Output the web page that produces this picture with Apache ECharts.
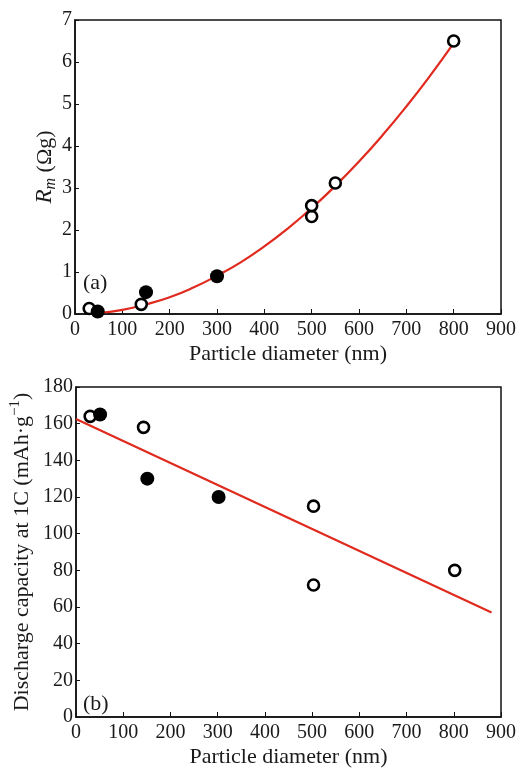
<!DOCTYPE html>
<html>
<head>
<meta charset="utf-8">
<script src="https://cdn.jsdelivr.net/npm/echarts@6/dist/echarts.min.js"></script>
<style>
html,body{margin:0;padding:0;background:#fff;}
#c{width:519px;height:769px;}
</style>
</head>
<body>
<div id="c"></div>
<script>
// ---- Panel (a): Rm vs particle diameter ----
const aOpen = [[30, 0.13], [140, 0.23], [500, 2.32], [500, 2.58], [550, 3.12], [800, 6.5]];
const aFilled = [[48, 0.06], [150, 0.52], [300, 0.9]];
const aFitX = [55, 100, 150, 200, 250, 300, 350, 400, 450, 500, 550, 600, 650, 700, 750, 800];
const aFitY = [0.03, 0.10, 0.23, 0.40, 0.63, 0.91, 1.23, 1.61, 2.04, 2.52, 3.05, 3.63, 4.26, 4.94, 5.67, 6.45];
const aYTicks = [0, 1, 2, 3, 4, 5, 6, 7];

// ---- Panel (b): discharge capacity vs particle diameter ----
const bOpen = [[30, 164], [143, 158], [503, 115], [503, 72], [802, 80]];
const bFilled = [[51, 165], [151, 130], [302, 120]];
const bFitX = [0, 880];
const bFitY = [162.5, 57];
const bYTicks = [0, 20, 40, 60, 80, 100, 120, 140, 160, 180];
const xTicks = [0, 100, 200, 300, 400, 500, 600, 700, 800, 900];

const FONT = 'Liberation Serif';
const TXT = '#1a1a1a';
const RED = '#e02a1e';

function xAxisCfg(gi) {
  return {
    type: 'value', gridIndex: gi, min: xTicks[0], max: xTicks[xTicks.length - 1], interval: 100,
    name: 'Particle diameter (nm)', nameLocation: 'middle', nameGap: 29, nameMoveOverlap: false,
    nameTextStyle: {fontFamily: FONT, fontSize: 22, color: TXT},
    axisLine: {show: true, onZero: false, lineStyle: {color: '#111', width: 1.5}},
    axisTick: {show: true, inside: true, length: 5, lineStyle: {color: '#111', width: 1}},
    axisLabel: {fontFamily: FONT, fontSize: 20, color: TXT, margin: 6},
    splitLine: {show: false}
  };
}

const option = {
  animation: false,
  backgroundColor: '#fff',
  grid: [
    {left: 75, right: 17, top: 20, height: 294, show: true, borderColor: '#111', borderWidth: 1.5},
    {left: 75, right: 17, top: 387, height: 333, show: true, borderColor: '#111', borderWidth: 1.5}
  ],
  xAxis: [xAxisCfg(0), xAxisCfg(1)],
  yAxis: [
    {
      type: 'value', gridIndex: 0, min: aYTicks[0], max: aYTicks[aYTicks.length - 1], interval: 1,
      name: '{R|R}{m|m}{t| (Ωg)}', nameLocation: 'middle', nameGap: 16, nameMoveOverlap: false,
      nameTextStyle: {
        fontFamily: FONT, fontSize: 22, color: TXT,
        rich: {
          R: {fontFamily: FONT, fontSize: 23, fontStyle: 'italic', color: TXT, lineHeight: 28},
          m: {fontFamily: FONT, fontSize: 16, fontStyle: 'italic', color: TXT, lineHeight: 15, verticalAlign: 'bottom'},
          t: {fontFamily: FONT, fontSize: 22, color: TXT, lineHeight: 28}
        }
      },
      axisLine: {show: true, onZero: false, lineStyle: {color: '#111', width: 1.5}},
      axisTick: {show: true, inside: true, length: 4, lineStyle: {color: '#111', width: 1}},
      axisLabel: {fontFamily: FONT, fontSize: 20, color: TXT, margin: 3},
      splitLine: {show: false}
    },
    {
      type: 'value', gridIndex: 1, min: bYTicks[0], max: bYTicks[bYTicks.length - 1], interval: 20,
      name: '{t|Discharge capacity at 1C (mAh·g}{s|−1}{t|)}', nameLocation: 'middle', nameGap: 40, nameMoveOverlap: false,
      nameTextStyle: {
        fontFamily: FONT, fontSize: 22, color: TXT,
        rich: {
          t: {fontFamily: FONT, fontSize: 22, color: TXT, lineHeight: 28},
          s: {fontFamily: FONT, fontSize: 15, color: TXT, lineHeight: 15, verticalAlign: 'top'}
        }
      },
      axisLine: {show: true, onZero: false, lineStyle: {color: '#111', width: 1.5}},
      axisTick: {show: true, inside: true, length: 4, lineStyle: {color: '#111', width: 1}},
      axisLabel: {fontFamily: FONT, fontSize: 20, color: TXT, margin: 3},
      splitLine: {show: false}
    }
  ],
  graphic: [
    {type: 'text', left: 83, top: 272, style: {text: '(a)', font: '22px "Liberation Serif"', fill: TXT}},
    {type: 'text', left: 83, top: 693, style: {text: '(b)', font: '22px "Liberation Serif"', fill: TXT}}
  ],
  series: [
    {
      type: 'line', xAxisIndex: 0, yAxisIndex: 0, smooth: true, symbol: 'none',
      data: aFitX.map((x, i) => [x, aFitY[i]]),
      lineStyle: {color: RED, width: 2.2}, z: 2
    },
    {
      type: 'scatter', xAxisIndex: 0, yAxisIndex: 0, data: aOpen, symbol: 'circle', symbolSize: 11,
      itemStyle: {color: '#fff', borderColor: '#000', borderWidth: 2.6, opacity: 1}, z: 3
    },
    {
      type: 'scatter', xAxisIndex: 0, yAxisIndex: 0, data: aFilled, symbol: 'circle', symbolSize: 14,
      itemStyle: {color: '#000', opacity: 1}, z: 3
    },
    {
      type: 'line', xAxisIndex: 1, yAxisIndex: 1, symbol: 'none',
      data: bFitX.map((x, i) => [x, bFitY[i]]),
      lineStyle: {color: RED, width: 2.2}, z: 2
    },
    {
      type: 'scatter', xAxisIndex: 1, yAxisIndex: 1, data: bOpen, symbol: 'circle', symbolSize: 11,
      itemStyle: {color: '#fff', borderColor: '#000', borderWidth: 2.6, opacity: 1}, z: 3
    },
    {
      type: 'scatter', xAxisIndex: 1, yAxisIndex: 1, data: bFilled, symbol: 'circle', symbolSize: 14,
      itemStyle: {color: '#000', opacity: 1}, z: 3
    }
  ]
};

const chart = echarts.init(document.getElementById('c'), null, {renderer: 'canvas'});
chart.setOption(option);
</script>
</body>
</html>
